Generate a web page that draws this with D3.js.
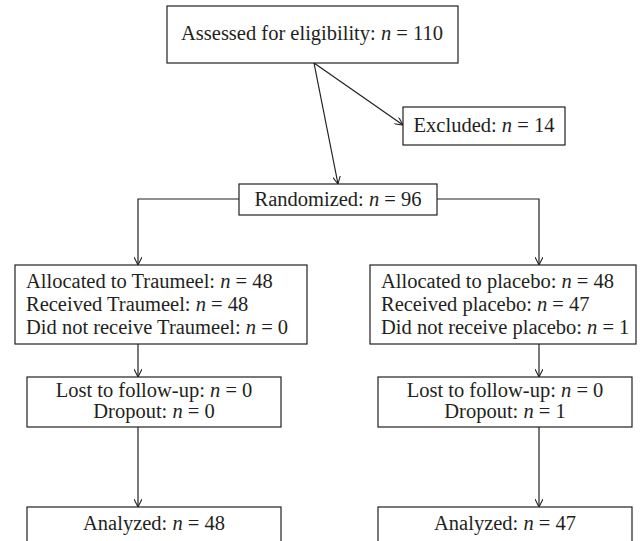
<!DOCTYPE html>
<html>
<script type="text/javascript" src="https://cdn.jsdelivr.net/npm/d3@7"></script>
<style>
body { margin: 0; background: white; }
text {
  font-family: "Liberation Serif", "DejaVu Serif", serif;
  font-size: 20.5px;
  fill: #231f20;
}
rect.box {
  fill: white;
  stroke: #231f20;
  stroke-width: 1.2;
}
path.link {
  fill: none;
  stroke: #231f20;
  stroke-width: 1.2;
}
</style>
<body>
<svg width="640" height="541"></svg>
<script>
// flow data
const topLabels = ["Assessed for eligibility", "Excluded", "Randomized"];
const topN = [110, 14, 96];
const arms = ["Traumeel", "placebo"];
const allocLabels = [
  ["Allocated to Traumeel", "Received Traumeel", "Did not receive Traumeel"],
  ["Allocated to placebo", "Received placebo", "Did not receive placebo"]
];
const allocN = [[48, 48, 0], [48, 47, 1]];
const followLabels = ["Lost to follow-up", "Dropout"];
const followN = [[0, 0], [0, 1]];
const analyzedLabel = "Analyzed";
const analyzedN = [48, 47];

var svg = d3.select("svg");

// arm centre lines
var xs = d3.scaleOrdinal().domain(arms).range([138, 539]);
// vertical rows
var ys = d3.scaleOrdinal()
  .domain(["assess", "exclude", "random", "alloc", "follow", "analyzed"])
  .range([6, 107, 184, 265, 377, 507]);

function line(g, x, y, label, n, anchor) {
  var t = g.append("text")
    .attr("x", x).attr("y", y)
    .attr("dy", "0.35em")
    .attr("text-anchor", anchor || "middle");
  t.append("tspan").text(label + ": ");
  t.append("tspan").style("font-style", "italic").text("n");
  t.append("tspan").text(" = " + n);
}

function box(x0, x1, y0, h) {
  svg.append("rect").attr("class", "box")
    .attr("x", x0).attr("y", y0)
    .attr("width", x1 - x0).attr("height", h);
}

// arrows first so boxes sit on top
svg.append("defs").append("marker")
  .attr("id", "arr")
  .attr("viewBox", "0 0 10 10")
  .attr("refX", 10).attr("refY", 5)
  .attr("markerWidth", 8).attr("markerHeight", 8)
  .attr("markerUnits", "userSpaceOnUse")
  .attr("orient", "auto")
  .append("path")
  .attr("d", "M0,0 L10,5 L0,10")
  .attr("fill", "none")
  .attr("stroke", "#231f20")
  .attr("stroke-width", 1.3);

var links = [
  [[314, ys("assess") + 57], [403, 125]],
  [[314, ys("assess") + 57], [338, ys("random")]],
  [[239, 199], [xs(arms[0]), 199], [xs(arms[0]), ys("alloc")]],
  [[437, 199], [xs(arms[1]), 199], [xs(arms[1]), ys("alloc")]]
];
arms.forEach(function(a) {
  links.push([[xs(a), ys("alloc") + 79], [xs(a), ys("follow")]]);
  links.push([[xs(a), ys("follow") + 50], [xs(a), ys("analyzed")]]);
});
svg.selectAll("path.link")
  .data(links)
  .enter()
  .append("path")
  .attr("class", "link")
  .attr("d", d3.line())
  .attr("marker-end", "url(#arr)");

// top boxes
box(167, 458, ys("assess"), 57);
line(svg, 312, ys("assess") + 27, topLabels[0], topN[0]);
box(403, 565, ys("exclude"), 38);
line(svg, 484, ys("exclude") + 18, topLabels[1], topN[1]);
box(239, 437, ys("random"), 31);
line(svg, 338, ys("random") + 15, topLabels[2], topN[2]);

// arm boxes
var allocX = [[15, 307], [370, 636]];
var followX = [[27, 281], [378, 632]];
arms.forEach(function(a, i) {
  var cx = (followX[i][0] + followX[i][1]) / 2;
  box(allocX[i][0], allocX[i][1], ys("alloc"), 79);
  allocLabels[i].forEach(function(lab, j) {
    line(svg, allocX[i][0] + 11, ys("alloc") + 16 + j * 23, lab, allocN[i][j], "start");
  });
  box(followX[i][0], followX[i][1], ys("follow"), 50);
  followLabels.forEach(function(lab, j) {
    line(svg, cx, ys("follow") + 13 + j * 21, lab, followN[i][j]);
  });
  box(followX[i][0], followX[i][1], ys("analyzed"), 60);
  line(svg, cx, ys("analyzed") + 16, analyzedLabel, analyzedN[i]);
});
</script>
</body>
</html>
